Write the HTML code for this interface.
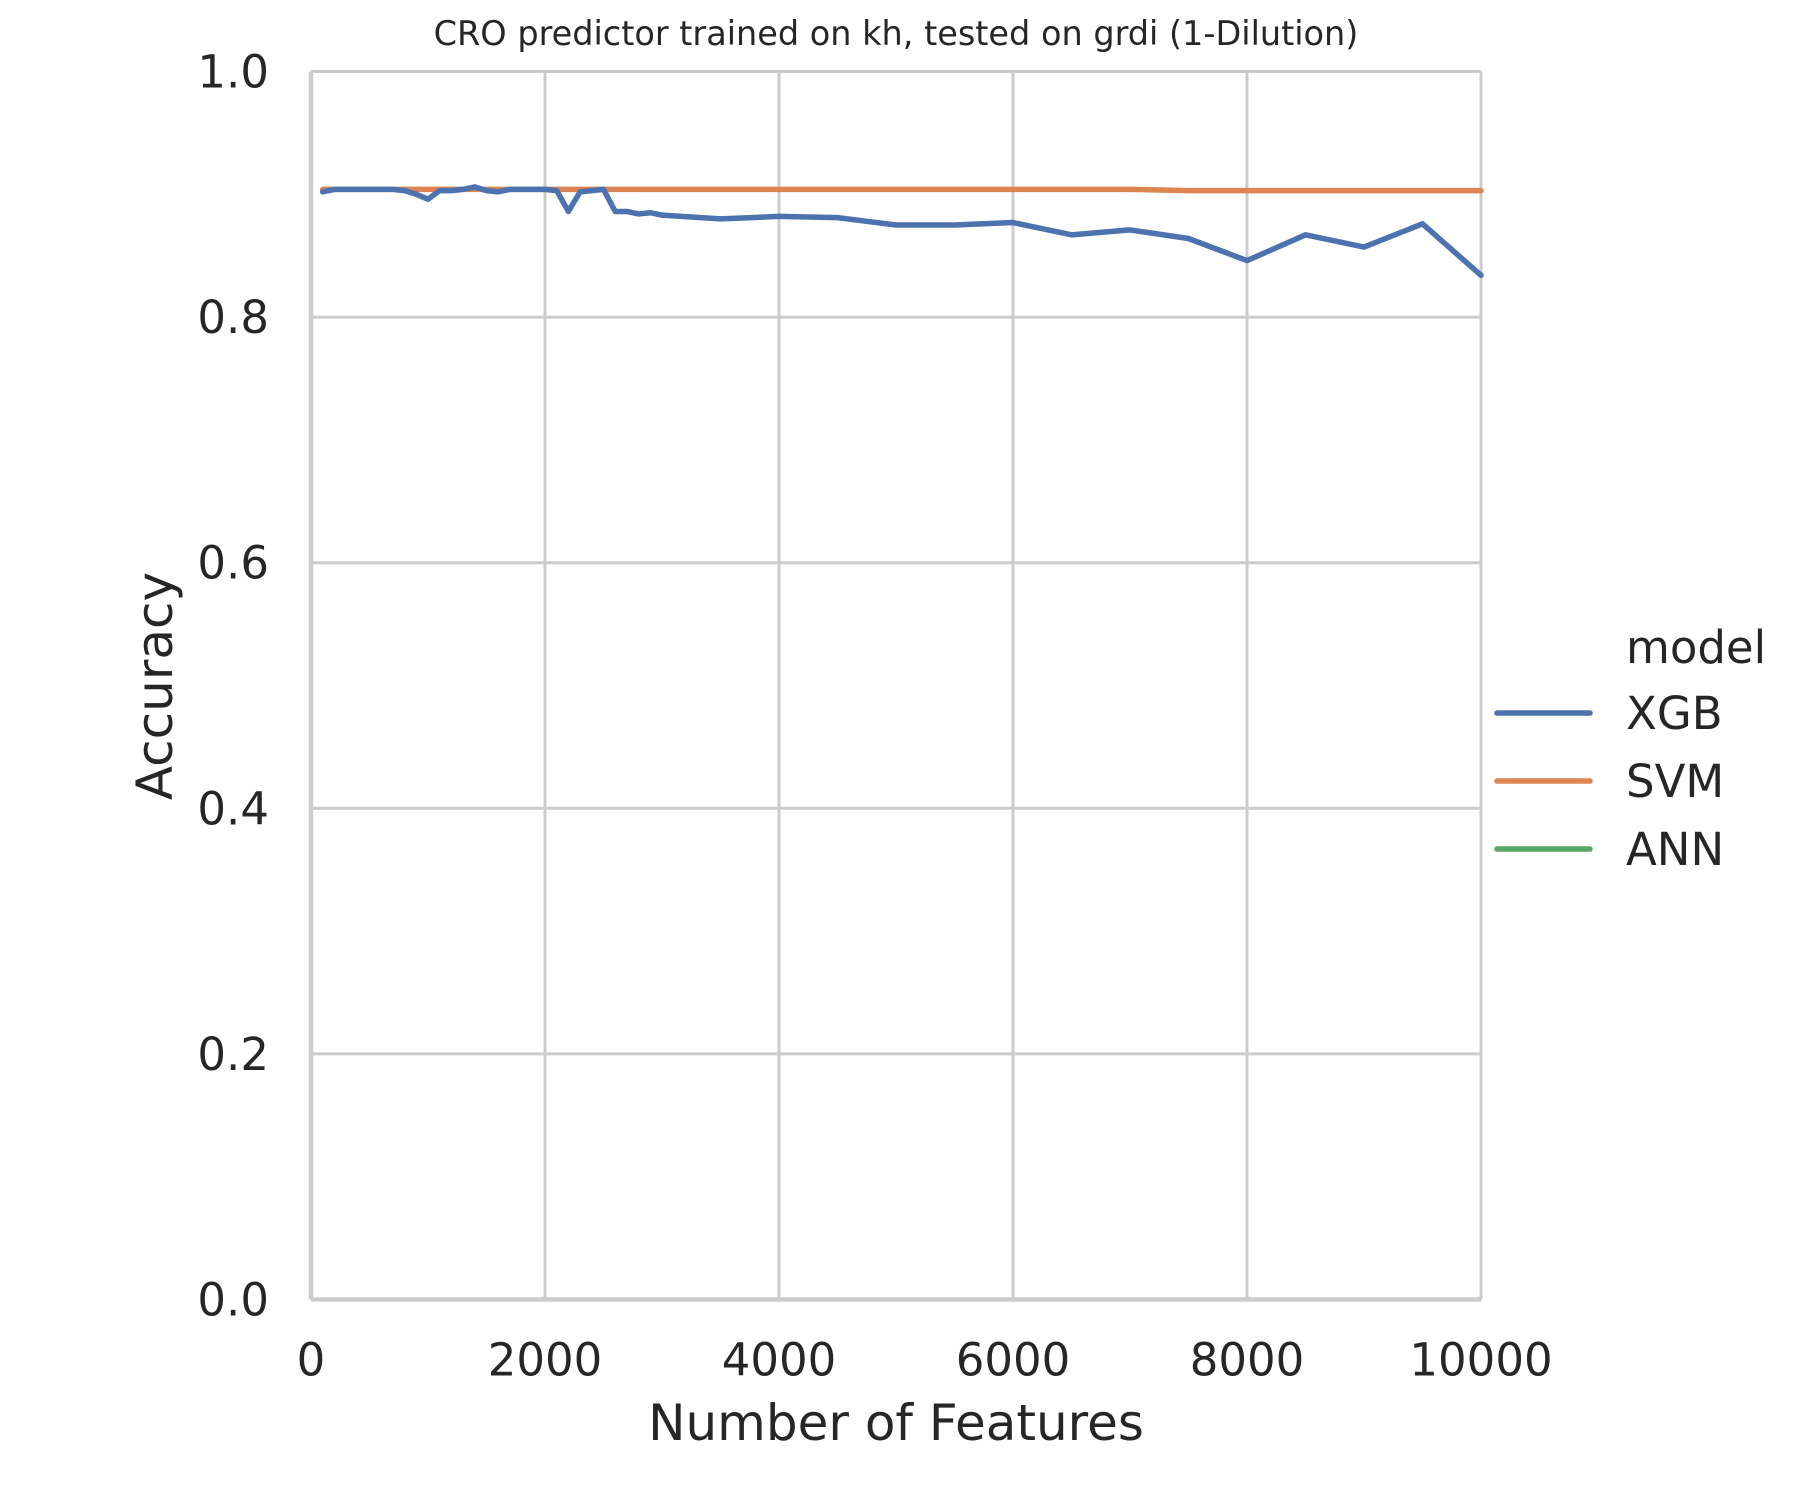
<!DOCTYPE html>
<html><head><meta charset="utf-8"><style>
body{margin:0;background:#fff;}
svg{display:block;font-family:"DejaVu Sans","Liberation Sans",sans-serif;}
</style></head><body>
<svg id="chart" width="1808" height="1500" viewBox="0 0 1808 1500">
<text x="896" y="45" font-size="33.5" text-anchor="middle" fill="#262626">CRO predictor trained on kh, tested on grdi (1-Dilution)</text>
<g id="grid"></g>
<g id="series"></g>
<g id="ticks"></g>
<text x="896" y="1440" font-size="50" text-anchor="middle" fill="#262626">Number of Features</text>
<text transform="translate(172,686) rotate(-90)" font-size="50" text-anchor="middle" fill="#262626">Accuracy</text>
<g id="legend">
<text x="1626" y="663" font-size="45" fill="#262626">model</text>
</g>
</svg>
<script>
const xgbX=[100,200,300,400,500,600,700,800,900,1000,1100,1200,1300,1400,1500,1600,1700,1800,1900,2000,2100,2200,2300,2400,2500,2600,2700,2800,2900,3000,3500,4000,4500,5000,5500,6000,6500,7000,7500,8000,8500,9000,9500,10000];
const xgbY=[0.902,0.904,0.904,0.904,0.904,0.904,0.904,0.903,0.900,0.896,0.903,0.903,0.904,0.906,0.903,0.902,0.904,0.904,0.904,0.904,0.903,0.886,0.902,0.903,0.904,0.886,0.886,0.884,0.885,0.883,0.880,0.882,0.881,0.875,0.875,0.877,0.867,0.871,0.864,0.846,0.867,0.857,0.876,0.834];
const svmX=[100,1000,2000,3000,4000,5000,6000,7000,7500,8000,9000,10000];
const svmY=[0.904,0.904,0.904,0.904,0.904,0.904,0.904,0.904,0.903,0.903,0.903,0.903];
const xTicks=[0,2000,4000,6000,8000,10000];
const yTicks=[0.0,0.2,0.4,0.6,0.8,1.0];
const legendNames=['XGB','SVM','ANN'];
const legendColors=['#4c72b0','#dd8452','#55a868'];
const L=311,R=1481,T=71.5,B=1299.5;
const sx=v=>L+(v/10000)*(R-L), sy=v=>B-v*(B-T);
const NS='http://www.w3.org/2000/svg';
function mk(tag,attrs,parent){const e=document.createElementNS(NS,tag);for(const k in attrs)e.setAttribute(k,attrs[k]);document.getElementById(parent).appendChild(e);return e;}
xTicks.forEach(t=>{
 const l=mk('line',{x1:sx(t),x2:sx(t),y1:T,y2:B,stroke:'#cccccc','stroke-width':t===0?4.5:3},'grid');
 
 
 const tx=mk('text',{x:sx(t),y:B+76,'font-size':45,'text-anchor':'middle',fill:'#262626'},'ticks');tx.textContent=t;
 
 
});
yTicks.forEach(t=>{
 const l=mk('line',{x1:L,x2:R,y1:sy(t),y2:sy(t),stroke:'#cccccc','stroke-width':t===0?4.5:3},'grid');
 
 
 const tx=mk('text',{x:L-42,y:sy(t)+16,'font-size':45,'text-anchor':'end',fill:'#262626'},'ticks');tx.textContent=t.toFixed(1);
 
 
});
const rs=mk('line',{x1:R,x2:R,y1:T,y2:B,stroke:'#cccccc','stroke-width':1.5},'grid');


function line(xs,ys,c,n){const p=mk('polyline',{points:xs.map((x,i)=>sx(x)+','+sy(ys[i])).join(' '),fill:'none',stroke:c,'stroke-width':5.5,'stroke-linejoin':'round','stroke-linecap':'round'},'series');
 
 }
line(svmX,svmY,'#dd8452','svm-line');
line(xgbX,xgbY,'#4c72b0','xgb-line');
legendNames.forEach((n,i)=>{const y=713+i*68;
 const l=mk('line',{x1:1497,x2:1590,y1:y,y2:y,stroke:legendColors[i],'stroke-width':5.5,'stroke-linecap':'round'},'legend');
 
 
 const t=mk('text',{x:1626,y:y+16,'font-size':45,fill:'#262626'},'legend');t.textContent=n;
 
 
});
</script>
</body></html>
